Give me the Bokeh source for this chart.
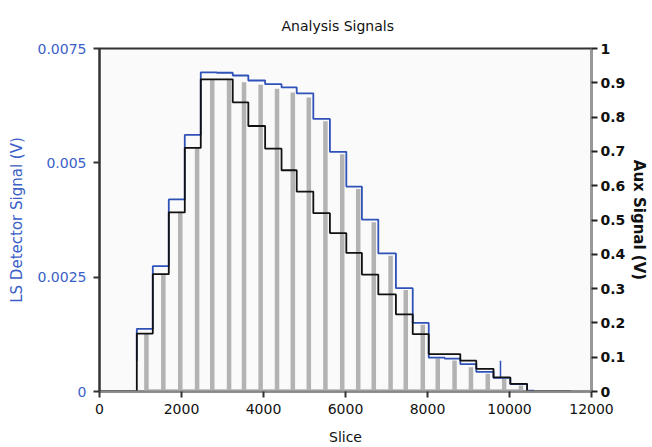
from bokeh.plotting import figure
from bokeh.models import Range1d, LinearAxis, FixedTicker
from bokeh.embed import file_html
from bokeh.resources import INLINE

# ---- data ----
# step edges of the analysis slices
step_edges = [910, 1300, 1690, 2080, 2470, 2860, 3250, 3630, 4040, 4440, 4810, 5215,
              5620, 6020, 6400, 6800, 7230, 7640, 8030, 8420, 8800, 9190, 9610, 10020, 10430]
# LS detector signal level per step (V, left axis)
ls_levels = [0.00137, 0.00274, 0.00420, 0.00561, 0.00698, 0.00697, 0.00691, 0.00680,
             0.00672, 0.00665, 0.00652, 0.00596, 0.00524, 0.00448, 0.00376, 0.00302,
             0.00226, 0.00150, 0.00074, 0.00072, 0.00060, 0.00043, 0.00030, 0.00016]
ls_start = 0.00067
ls_tail_x = 10600
ls_tail = 0.00002
spike_x = [9780]
spike_base = [0.00030]
spike_top = [0.00067]
# aux signal level per step (V, right axis)
aux_levels = [0.169, 0.342, 0.522, 0.710, 0.910, 0.910, 0.843, 0.774, 0.708, 0.645,
              0.583, 0.520, 0.462, 0.404, 0.341, 0.283, 0.225, 0.167, 0.109, 0.109,
              0.090, 0.066, 0.041, 0.022]
aux_end_x = 11500
# gray slice bars (left axis units)
bar_x = [1145, 1557, 1970, 2380, 2750, 3160, 3525, 3930, 4330, 4715, 5105, 5510,
         5920, 6310, 6690, 7100, 7470, 7885, 8250, 8660, 9060, 9470, 9870, 10280]
bar_h = [0.00128, 0.00257, 0.00393, 0.00533, 0.00683, 0.00683, 0.00676, 0.00671,
         0.00662, 0.00654, 0.00643, 0.00591, 0.00519, 0.00443, 0.00370, 0.00297,
         0.00222, 0.00146, 0.00072, 0.00068, 0.00053, 0.00039, 0.00028, 0.00013]

x_ticks = [0, 2000, 4000, 6000, 8000, 10000, 12000]
ls_ticks = [0, 0.0025, 0.005, 0.0075]
ls_tick_labels = ["0", "0.0025", "0.005", "0.0075"]
aux_ticks = [0, 0.1, 0.2, 0.3, 0.4, 0.5, 0.6, 0.7, 0.8, 0.9, 1.0]
aux_tick_labels = ["0", "0.1", "0.2", "0.3", "0.4", "0.5", "0.6", "0.7", "0.8", "0.9", "1"]

FONT = "DejaVu Sans"
BLUE_TXT = "#3a60c8"
BLUE_LINE = "#2f52b8"

# ---- build step polylines from the data ----
ls_x = [step_edges[0]]
ls_y = [ls_start]
for i, lv in enumerate(ls_levels):
    ls_x += [step_edges[i], step_edges[i + 1]]
    ls_y += [lv, lv]
ls_x += [step_edges[-1], ls_tail_x]
ls_y += [ls_tail, ls_tail]

aux_x = [0, step_edges[0]]
aux_y = [0, 0]
for i, lv in enumerate(aux_levels):
    aux_x += [step_edges[i], step_edges[i + 1]]
    aux_y += [lv, lv]
aux_x += [step_edges[-1], aux_end_x]
aux_y += [0, 0]

p = figure(width=652, height=447, output_backend="svg", toolbar_location=None,
           x_range=Range1d(0, 12000), y_range=Range1d(0, 0.0075),
           min_border_left=99, min_border_right=61, min_border_top=46, min_border_bottom=56,
           title="Analysis Signals")
p.extra_y_ranges = {"aux": Range1d(0, 1)}

p.background_fill_color = "#fafafa"
p.border_fill_color = "white"
p.outline_line_color = "#333333"
p.outline_line_width = 2
p.xgrid.visible = False
p.ygrid.visible = False

p.title.text_font = FONT
p.title.text_font_size = "14px"
p.title.text_font_style = "normal"
p.title.text_color = "#111111"
p.title.align = "left"
p.title.offset = 182
p.title.standoff = 30

# bars
p.vbar(x=bar_x, top=bar_h, bottom=0, width=110, fill_color="#b3b3b3", line_color=None)
p.line(x=[bar_x[0], bar_x[-1]], y=[0.00003, 0.00003], line_color="#b3b3b3", line_width=2)

# LS detector
p.line(x=ls_x, y=ls_y, line_color=BLUE_LINE, line_width=1.8)
p.segment(x0=spike_x, y0=spike_base, x1=spike_x, y1=spike_top, line_color=BLUE_LINE, line_width=1.5)

# Aux
p.line(x=aux_x, y=aux_y, line_color="#111111", line_width=1.8, y_range_name="aux")

# x axis
xa = p.xaxis[0]
xa.ticker = FixedTicker(ticks=x_ticks)
xa.axis_label = "Slice"
xa.axis_label_text_font = FONT
xa.axis_label_text_font_size = "14px"
xa.axis_label_text_font_style = "normal"
xa.axis_label_text_color = "#111111"
xa.axis_label_standoff = 12
xa.major_label_text_font = FONT
xa.major_label_text_font_size = "14px"
xa.major_label_text_color = "#111111"
xa.major_label_standoff = 6
xa.axis_line_color = "#888888"
xa.axis_line_width = 2
xa.major_tick_line_color = "#333333"
xa.major_tick_line_width = 2
xa.major_tick_out = 6
xa.major_tick_in = 0
xa.minor_tick_line_color = None

# left axis
ya = p.yaxis[0]
ya.ticker = FixedTicker(ticks=ls_ticks)
ya.major_label_overrides = {t: s for t, s in zip(ls_ticks, ls_tick_labels)}
ya.axis_label = "LS Detector Signal (V)"
ya.axis_label_text_font = FONT
ya.axis_label_text_font_size = "15px"
ya.axis_label_text_font_style = "normal"
ya.axis_label_text_color = BLUE_TXT
ya.axis_label_standoff = 9
ya.major_label_text_font = FONT
ya.major_label_text_font_size = "14px"
ya.major_label_text_color = BLUE_TXT
ya.major_label_standoff = 7
ya.axis_line_color = "#333333"
ya.axis_line_width = 2
ya.major_tick_line_color = "#333333"
ya.major_tick_line_width = 2
ya.major_tick_out = 6
ya.major_tick_in = 0
ya.minor_tick_line_color = None

# right axis
ra = LinearAxis(y_range_name="aux", ticker=FixedTicker(ticks=aux_ticks))
ra.major_label_overrides = {t: s for t, s in zip(aux_ticks, aux_tick_labels)}
ra.axis_label = "Aux Signal (V)"
ra.axis_label_text_font = FONT
ra.axis_label_text_font_size = "15px"
ra.axis_label_text_font_style = "bold"
ra.axis_label_text_color = "#111111"
ra.axis_label_standoff = 2
ra.major_label_text_font = FONT
ra.major_label_text_font_size = "14px"
ra.major_label_text_font_style = "bold"
ra.major_label_text_color = "#111111"
ra.major_label_standoff = 3
ra.axis_line_color = "#999999"
ra.axis_line_width = 2
ra.major_tick_line_color = "#222222"
ra.major_tick_line_width = 2
ra.major_tick_out = 6
ra.major_tick_in = 0
ra.minor_tick_line_color = None
p.add_layout(ra, "right")

open("out.html", "w").write(file_html(p, INLINE))
